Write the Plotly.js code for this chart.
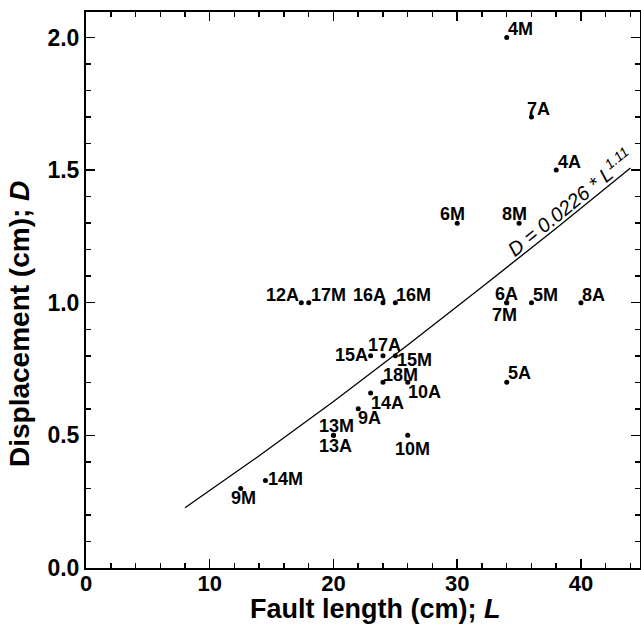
<!DOCTYPE html>
<html>
<head>
<meta charset="utf-8">
<script src="https://cdn.plot.ly/plotly-3.0.1.min.js"></script>
<style>html,body{margin:0;padding:0;background:#fff;}</style>
</head>
<body>
<div id="chart" style="width:641px;height:625px;"></div>
<script>
// ---- data ----
const sampleNames = ['4M','7A','4A','6M','8M','6A','7M','5M','8A','12A','17M','16A','16M','15A','17A','15M','18M','10A','5A','14A','9A','13M','13A','10M','14M','9M'];
const faultLength = [34,36,38,30,35,34,34,36,40,17.4,18,24,25,23,24,25,24,26,34,23,22,20,20,26,14.5,12.5];
const displacement = [2.0,1.7,1.5,1.3,1.3,1.0,1.0,1.0,1.0,1.0,1.0,1.0,1.0,0.8,0.8,0.8,0.7,0.7,0.7,0.66,0.6,0.5,0.5,0.5,0.33,0.3];
// fitted power-law line D = 0.0226 * L^1.11
const fitL = [8,14,20,26,32,38,44];
const fitD = [0.227,0.423,0.628,0.841,1.059,1.281,1.508];
const fitLabel = '<i>D</i> = 0.0226 * <i>L</i><sup>1.11</sup>';
const xTitle = '<b>Fault length (cm); <i>L</i></b>';
const yTitle = '<b>Displacement (cm); <i>D</i></b>';

// ---- label placement (anchor, dx px, dy px of cap centre; + = down) ----
const place = {
  '4M':['left',1,-8], '7A':['left',-4,-8.5], '4A':['left',1.3,-8.3], '6M':['center',-5,-9.5],
  '8M':['center',-5,-9.5], '6A':['center',0,-9], '7M':['center',-2.5,12.5], '5M':['left',1.3,-8],
  '8A':['left',0.7,-8], '12A':['right',-2.4,-8], '17M':['left',2.5,-8], '16A':['right',2.7,-8],
  '16M':['left',1,-8], '15A':['right',-3,-1], '17A':['center',2,-11], '15M':['left',2,4],
  '18M':['left',0,-7.2], '10A':['left',0,10], '5A':['left',1.7,-9.3], '14A':['left',0,10],
  '9A':['left',0,9.5], '13M':['center',3,-9], '13A':['center',2.5,10.5], '10M':['center',4.5,13.5],
  '14M':['left',3,-1.5], '9M':['center',3,9.5]
};

const FONT = 'Liberation Sans, Arial, Helvetica, sans-serif';

const traces = [
  {x: fitL, y: fitD, mode: 'lines', line: {color: 'black', width: 1.3}, hoverinfo: 'skip'},
  {x: faultLength, y: displacement, mode: 'markers', marker: {color: 'black', size: 5}, hoverinfo: 'skip'}
];

const annotations = sampleNames.map((n, i) => {
  const p = place[n];
  let xs = p[1];
  if (p[0] === 'left') xs -= 2;
  if (p[0] === 'right') xs += 2;
  return {
    x: faultLength[i], y: displacement[i], xref: 'x', yref: 'y',
    text: n, showarrow: false, xanchor: p[0], yanchor: 'middle',
    xshift: xs, yshift: -p[2],
    font: {family: FONT, size: 18, color: 'black', weight: 'bold'}
  };
});

annotations.push({
  x: 39.1, y: 1.381, xref: 'x', yref: 'y', text: fitLabel, showarrow: false,
  xanchor: 'center', yanchor: 'middle', textangle: -39,
  font: {family: FONT, size: 20, color: 'black', style: 'italic'}
});
annotations.push({
  x: 0.522, y: -0.0735, xref: 'paper', yref: 'paper', text: xTitle, showarrow: false,
  xanchor: 'center', yanchor: 'middle',
  font: {family: FONT, size: 27, color: 'black'}
});
annotations.push({
  x: -0.119, y: 0.439, xref: 'paper', yref: 'paper', text: yTitle, showarrow: false,
  xanchor: 'center', yanchor: 'middle', textangle: -90,
  font: {family: FONT, size: 28, color: 'black'}
});

const axisCommon = {
  showgrid: false, zeroline: false, showline: true, linewidth: 2, linecolor: 'black',
  mirror: 'allticks', ticks: 'inside', ticklen: 9, tickwidth: 1.5, tickcolor: 'black'
};

const layout = {
  width: 641, height: 625,
  margin: {l: 86, r: 1, t: 12, b: 57, pad: 0},
  paper_bgcolor: 'white', plot_bgcolor: 'white', showlegend: false,
  xaxis: Object.assign({}, axisCommon, {
    range: [0, 44.77], tick0: 0, dtick: 10, ticklabelstandoff: -5,
    tickfont: {family: FONT, size: 22, color: 'black', weight: 'bold'},
    minor: {dtick: 2, ticks: 'inside', ticklen: 5, tickwidth: 1.5, tickcolor: 'black', showgrid: false}
  }),
  yaxis: Object.assign({}, axisCommon, {
    range: [0, 2.096], tick0: 0, dtick: 0.5, tickformat: '.1f',
    tickfont: {family: FONT, size: 23, color: 'black', weight: 'bold'},
    minor: {dtick: 0.1, ticks: 'inside', ticklen: 5, tickwidth: 1.5, tickcolor: 'black', showgrid: false}
  }),
  annotations: annotations
};

Plotly.newPlot('chart', traces, layout, {staticPlot: true, displayModeBar: false});
</script>
</body>
</html>
